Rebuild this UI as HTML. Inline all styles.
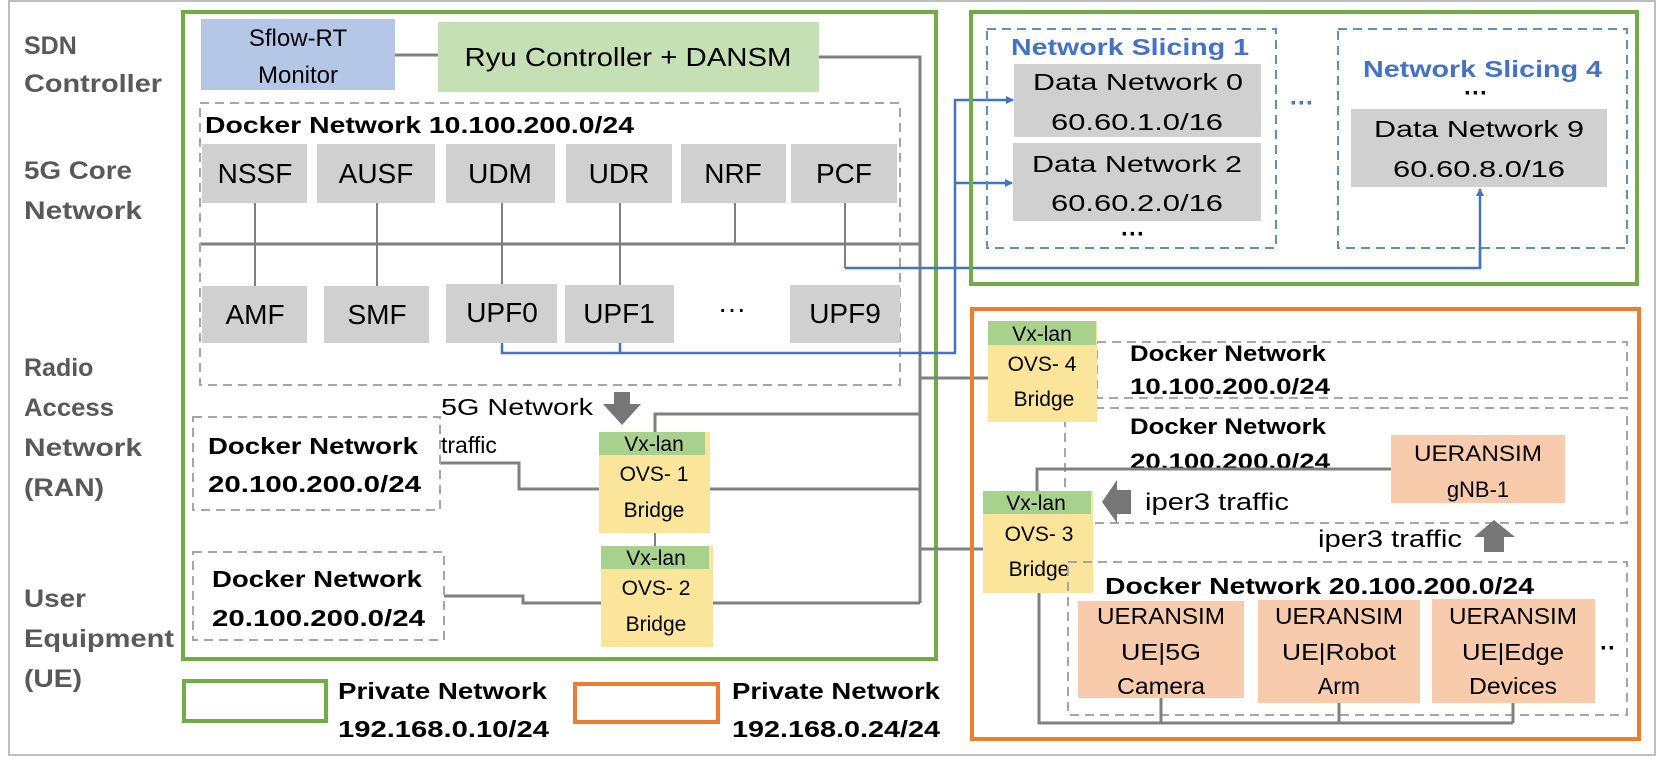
<!DOCTYPE html>
<html><head><meta charset="utf-8"><style>
html,body{margin:0;padding:0;background:#fff;}
svg{display:block;}
text{font-family:"Liberation Sans",sans-serif;}
</style></head><body>
<svg width="1675" height="765" viewBox="0 0 1675 765" xmlns="http://www.w3.org/2000/svg">
<defs>
<marker id="ab" markerWidth="8" markerHeight="8" refX="7" refY="4" orient="auto" markerUnits="userSpaceOnUse"><path d="M0,0 L8,4 L0,8 z" fill="#4472c4"/></marker>
</defs>
<rect x="9" y="1" width="1646" height="754" fill="#fff" stroke="#bfbfbf" stroke-width="2"/>

<g fill="#595959" font-weight="bold" font-size="25">
<text x="24" y="54">SDN</text>
<text x="24" y="92" textLength="138" lengthAdjust="spacingAndGlyphs">Controller</text>
<text x="24" y="179" textLength="108" lengthAdjust="spacingAndGlyphs">5G Core</text>
<text x="24" y="219" textLength="118" lengthAdjust="spacingAndGlyphs">Network</text>
<text x="24" y="376">Radio</text>
<text x="24" y="416" textLength="90" lengthAdjust="spacingAndGlyphs">Access</text>
<text x="24" y="456" textLength="118" lengthAdjust="spacingAndGlyphs">Network</text>
<text x="24" y="496" textLength="80" lengthAdjust="spacingAndGlyphs">(RAN)</text>
<text x="24" y="607" textLength="62" lengthAdjust="spacingAndGlyphs">User</text>
<text x="24" y="647" textLength="150" lengthAdjust="spacingAndGlyphs">Equipment</text>
<text x="24" y="687" textLength="58" lengthAdjust="spacingAndGlyphs">(UE)</text>
</g>

<rect x="183" y="12" width="753" height="647" fill="none" stroke="#70ad47" stroke-width="4"/>

<g stroke="#808080" stroke-width="3" fill="none">
<line x1="395" y1="55" x2="438" y2="55"/>
<polyline points="819,57 920,57 920,603"/>
<line x1="200" y1="244" x2="920" y2="244"/>
<line x1="255" y1="203" x2="255" y2="286" stroke-width="2"/>
<line x1="377" y1="203" x2="377" y2="286" stroke-width="2"/>
<line x1="502" y1="203" x2="502" y2="284" stroke-width="2"/>
<line x1="620" y1="203" x2="620" y2="285" stroke-width="2"/>
<line x1="735" y1="203" x2="735" y2="244" stroke-width="2"/>
<line x1="845" y1="203" x2="845" y2="268" stroke-width="2"/>
<polyline points="655,432 655,414 920,414"/>
<polyline points="440,463 519,463 519,489 600,489"/>
<line x1="710" y1="489" x2="920" y2="489"/>
<line x1="655" y1="533" x2="655" y2="546" stroke-width="2"/>
<polyline points="444,596 523,596 523,603 601,603"/>
<line x1="713" y1="603" x2="920" y2="603"/>
<line x1="920" y1="378" x2="988" y2="378"/>
<line x1="920" y1="549" x2="983" y2="549"/>
<polyline points="1039,593 1039,723 1513,723"/>
</g>

<rect x="201" y="19" width="194" height="71" fill="#b4c7e7"/>
<text x="298" y="46" font-size="24" text-anchor="middle">Sflow-RT</text>
<text x="298" y="83" font-size="24" text-anchor="middle">Monitor</text>
<rect x="438" y="22" width="381" height="70" fill="#c5e0b4"/>
<text x="628" y="66" font-size="26" text-anchor="middle" textLength="327" lengthAdjust="spacingAndGlyphs">Ryu Controller + DANSM</text>

<rect x="200" y="103" width="700" height="282" fill="none" stroke="#a6a6a6" stroke-width="2" stroke-dasharray="9,6"/>
<text x="205" y="133" font-size="23" font-weight="bold" textLength="429" lengthAdjust="spacingAndGlyphs">Docker Network 10.100.200.0/24</text>
<g fill="#d0d0d0">
<rect x="202" y="144" width="105" height="59"/>
<rect x="317" y="144" width="118" height="59"/>
<rect x="446" y="144" width="109" height="59"/>
<rect x="566" y="144" width="106" height="59"/>
<rect x="681" y="144" width="105" height="59"/>
<rect x="791" y="144" width="106" height="59"/>
<rect x="202" y="286" width="105" height="57"/>
<rect x="324" y="286" width="105" height="57"/>
<rect x="446" y="284" width="111" height="59"/>
<rect x="565" y="285" width="109" height="58"/>
<rect x="790" y="285" width="110" height="58"/>
</g>
<g font-size="28" text-anchor="middle">
<text x="255" y="183">NSSF</text>
<text x="376" y="183">AUSF</text>
<text x="500" y="183">UDM</text>
<text x="619" y="183">UDR</text>
<text x="733" y="183">NRF</text>
<text x="844" y="183">PCF</text>
<text x="255" y="324">AMF</text>
<text x="377" y="324">SMF</text>
<text x="502" y="322">UPF0</text>
<text x="619" y="323">UPF1</text>
<text x="732" y="318">···</text>
<text x="845" y="323">UPF9</text>
</g>

<g stroke="#4472c4" stroke-width="2.5" fill="none">
<polyline points="502,343 502,353 955,353 955,100 1013,100" marker-end="url(#ab)"/>
<line x1="620" y1="343" x2="620" y2="353"/>
<line x1="955" y1="183" x2="1012" y2="183" marker-end="url(#ab)"/>
<polyline points="845,268 1480,268 1480,189" marker-end="url(#ab)"/>
</g>

<rect x="193" y="417" width="247" height="93" fill="none" stroke="#a6a6a6" stroke-width="2" stroke-dasharray="9,6"/>
<text x="208" y="454" font-size="23" font-weight="bold" textLength="210" lengthAdjust="spacingAndGlyphs">Docker Network</text>
<text x="208" y="492" font-size="23" font-weight="bold" textLength="213" lengthAdjust="spacingAndGlyphs">20.100.200.0/24</text>
<rect x="193" y="552" width="251" height="88" fill="none" stroke="#a6a6a6" stroke-width="2" stroke-dasharray="9,6"/>
<text x="212" y="587" font-size="23" font-weight="bold" textLength="210" lengthAdjust="spacingAndGlyphs">Docker Network</text>
<text x="212" y="626" font-size="23" font-weight="bold" textLength="213" lengthAdjust="spacingAndGlyphs">20.100.200.0/24</text>

<text x="441" y="415" font-size="23" textLength="152" lengthAdjust="spacingAndGlyphs">5G Network</text>
<text x="441" y="453" font-size="23">traffic</text>
<polygon points="614,392 630,392 630,404 641,404 622,425 603,404 614,404" fill="#767676"/>

<rect x="599" y="432" width="111" height="101" fill="#fbe59a"/>
<rect x="599" y="432" width="106" height="23" fill="#a9d18e"/>
<text x="654" y="451" font-size="21" text-anchor="middle">Vx-lan</text>
<text x="654" y="481" font-size="21" text-anchor="middle">OVS- 1</text>
<text x="654" y="517" font-size="21" text-anchor="middle">Bridge</text>
<rect x="601" y="546" width="112" height="101" fill="#fbe59a"/>
<rect x="601" y="546" width="108" height="23" fill="#a9d18e"/>
<text x="656" y="565" font-size="21" text-anchor="middle">Vx-lan</text>
<text x="656" y="595" font-size="21" text-anchor="middle">OVS- 2</text>
<text x="656" y="631" font-size="21" text-anchor="middle">Bridge</text>

<rect x="184" y="681" width="142" height="40" fill="none" stroke="#70ad47" stroke-width="4"/>
<text x="338" y="699" font-size="23" font-weight="bold" textLength="209" lengthAdjust="spacingAndGlyphs">Private Network</text>
<text x="338" y="737" font-size="23" font-weight="bold" textLength="211" lengthAdjust="spacingAndGlyphs">192.168.0.10/24</text>
<rect x="575" y="684" width="143" height="38" fill="none" stroke="#ed7d31" stroke-width="4"/>
<text x="732" y="699" font-size="23" font-weight="bold" textLength="208" lengthAdjust="spacingAndGlyphs">Private Network</text>
<text x="732" y="737" font-size="23" font-weight="bold" textLength="208" lengthAdjust="spacingAndGlyphs">192.168.0.24/24</text>

<rect x="971" y="12" width="666" height="272" fill="none" stroke="#70ad47" stroke-width="4"/>
<rect x="987" y="29" width="289" height="219" fill="none" stroke="#5b8fc7" stroke-width="2" stroke-dasharray="9,6"/>
<text x="1011" y="55" font-size="23" font-weight="bold" fill="#4472c4" textLength="238" lengthAdjust="spacingAndGlyphs">Network Slicing 1</text>
<rect x="1014" y="64" width="247" height="73" fill="#d0d0d0"/>
<text x="1138" y="90" font-size="23" text-anchor="middle" textLength="210" lengthAdjust="spacingAndGlyphs">Data Network 0</text>
<text x="1137" y="130" font-size="23" text-anchor="middle" textLength="172" lengthAdjust="spacingAndGlyphs">60.60.1.0/16</text>
<rect x="1013" y="143" width="248" height="78" fill="#d0d0d0"/>
<text x="1137" y="172" font-size="23" text-anchor="middle" textLength="210" lengthAdjust="spacingAndGlyphs">Data Network 2</text>
<text x="1137" y="211" font-size="23" text-anchor="middle" textLength="172" lengthAdjust="spacingAndGlyphs">60.60.2.0/16</text>
<text x="1133" y="242" font-size="24" font-weight="bold" text-anchor="middle">···</text>
<text x="1302" y="111" font-size="24" font-weight="bold" fill="#4472c4" text-anchor="middle">···</text>
<rect x="1338" y="29" width="289" height="219" fill="none" stroke="#5b8fc7" stroke-width="2" stroke-dasharray="9,6"/>
<text x="1363" y="77" font-size="23" font-weight="bold" fill="#4472c4" textLength="239" lengthAdjust="spacingAndGlyphs">Network Slicing 4</text>
<text x="1476" y="101" font-size="24" font-weight="bold" text-anchor="middle">···</text>
<rect x="1351" y="109" width="256" height="78" fill="#d0d0d0"/>
<text x="1479" y="137" font-size="23" text-anchor="middle" textLength="210" lengthAdjust="spacingAndGlyphs">Data Network 9</text>
<text x="1479" y="177" font-size="23" text-anchor="middle" textLength="172" lengthAdjust="spacingAndGlyphs">60.60.8.0/16</text>
<line x1="1480" y1="268" x2="1480" y2="248" stroke="#4472c4" stroke-width="2.5"/>

<rect x="972" y="309" width="667" height="430" fill="none" stroke="#ed7d31" stroke-width="4"/>
<rect x="1097" y="342" width="530" height="56" fill="none" stroke="#a6a6a6" stroke-width="2" stroke-dasharray="9,6"/>
<text x="1130" y="361" font-size="22" font-weight="bold" textLength="196" lengthAdjust="spacingAndGlyphs">Docker Network</text>
<text x="1130" y="394" font-size="22" font-weight="bold" textLength="200" lengthAdjust="spacingAndGlyphs">10.100.200.0/24</text>
<rect x="1065" y="408" width="562" height="115" fill="none" stroke="#a6a6a6" stroke-width="2" stroke-dasharray="9,6"/>
<text x="1130" y="434" font-size="22" font-weight="bold" textLength="196" lengthAdjust="spacingAndGlyphs">Docker Network</text>
<text x="1130" y="469" font-size="22" font-weight="bold" textLength="200" lengthAdjust="spacingAndGlyphs">20.100.200.0/24</text>
<polyline points="1391,469 1037,469 1037,491" stroke="#808080" stroke-width="3" fill="none"/>

<rect x="988" y="321" width="109" height="101" fill="#fbe59a"/>
<rect x="988" y="321" width="108" height="24" fill="#a9d18e"/>
<text x="1042" y="341" font-size="21" text-anchor="middle">Vx-lan</text>
<text x="1042" y="371" font-size="21" text-anchor="middle">OVS- 4</text>
<text x="1044" y="406" font-size="21" text-anchor="middle">Bridge</text>
<rect x="983" y="491" width="110" height="102" fill="#fbe59a"/>
<rect x="983" y="491" width="108" height="23" fill="#a9d18e"/>
<text x="1036" y="510" font-size="21" text-anchor="middle">Vx-lan</text>
<text x="1039" y="541" font-size="21" text-anchor="middle">OVS- 3</text>
<text x="1039" y="576" font-size="21" text-anchor="middle">Bridge</text>

<rect x="1391" y="435" width="174" height="68" fill="#f8cbad"/>
<text x="1478" y="461" font-size="22" text-anchor="middle" textLength="128" lengthAdjust="spacingAndGlyphs">UERANSIM</text>
<text x="1478" y="497" font-size="22" text-anchor="middle">gNB-1</text>

<polygon points="1102,502 1117,480 1117,490 1131,490 1131,514 1117,514 1117,523" fill="#767676"/>
<text x="1145" y="510" font-size="24" textLength="144" lengthAdjust="spacingAndGlyphs">iper3 traffic</text>
<text x="1318" y="547" font-size="24" textLength="144" lengthAdjust="spacingAndGlyphs">iper3 traffic</text>
<polygon points="1494,520 1515,537 1504,537 1504,552 1484,552 1484,537 1474,537" fill="#767676"/>

<rect x="1068" y="562" width="559" height="153" fill="none" stroke="#a6a6a6" stroke-width="2" stroke-dasharray="9,6"/>
<text x="1105" y="594" font-size="23" font-weight="bold" textLength="429" lengthAdjust="spacingAndGlyphs">Docker Network 20.100.200.0/24</text>
<g fill="#f8cbad">
<rect x="1078" y="601" width="166" height="97"/>
<rect x="1258" y="600" width="162" height="103"/>
<rect x="1432" y="599" width="163" height="104"/>
</g>
<g font-size="23" text-anchor="middle">
<text x="1161" y="624" textLength="128" lengthAdjust="spacingAndGlyphs">UERANSIM</text>
<text x="1161" y="660" textLength="80" lengthAdjust="spacingAndGlyphs">UE|5G</text>
<text x="1161" y="694" textLength="88" lengthAdjust="spacingAndGlyphs">Camera</text>
<text x="1339" y="624" textLength="128" lengthAdjust="spacingAndGlyphs">UERANSIM</text>
<text x="1339" y="660" textLength="114" lengthAdjust="spacingAndGlyphs">UE|Robot</text>
<text x="1339" y="694">Arm</text>
<text x="1513" y="624" textLength="128" lengthAdjust="spacingAndGlyphs">UERANSIM</text>
<text x="1513" y="660" textLength="102" lengthAdjust="spacingAndGlyphs">UE|Edge</text>
<text x="1513" y="694" textLength="88" lengthAdjust="spacingAndGlyphs">Devices</text>
</g>
<text x="1608" y="656" font-size="24" font-weight="bold" text-anchor="middle">··</text>
<g stroke="#808080" stroke-width="3" fill="none">
<line x1="1161" y1="698" x2="1161" y2="723"/>
<line x1="1339" y1="703" x2="1339" y2="723"/>
<line x1="1513" y1="703" x2="1513" y2="723"/>
</g>
</svg>
</body></html>
